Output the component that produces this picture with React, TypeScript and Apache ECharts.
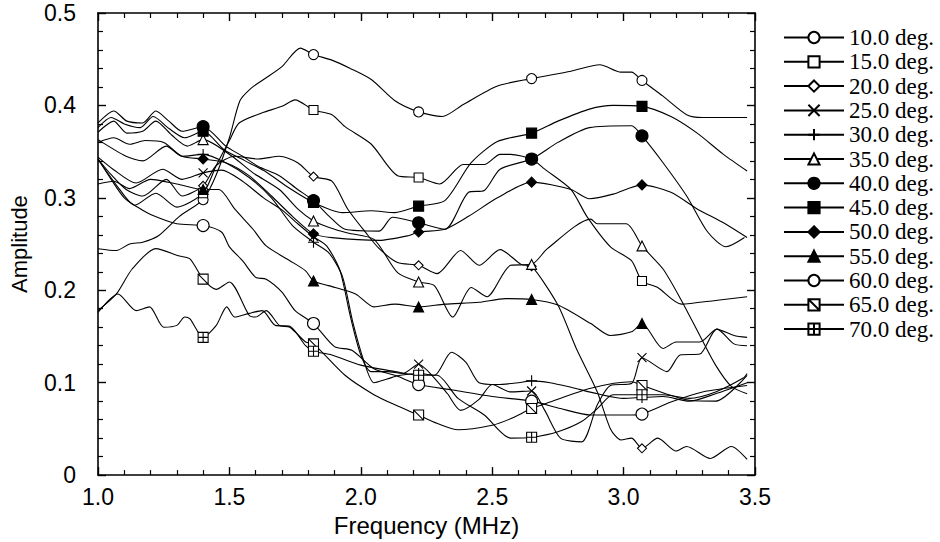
import React, { useEffect, useRef } from "react";
import * as echarts from "echarts";

const MARKER_X = [1.4, 1.82, 2.22, 2.65, 3.07];
const NAMES = ["10.0 deg.", "15.0 deg.", "20.0 deg.", "25.0 deg.", "30.0 deg.", "35.0 deg.", "40.0 deg.", "45.0 deg.", "50.0 deg.", "55.0 deg.", "60.0 deg.", "65.0 deg.", "70.0 deg."];
const X_TICKS = [1.0, 1.5, 2.0, 2.5, 3.0, 3.5];
const Y_TICKS = [0, 0.1, 0.2, 0.3, 0.4, 0.5];

const s10 = [[1.0,0.245],[1.07,0.243],[1.12,0.25],[1.17,0.252],[1.23,0.259],[1.31,0.28],[1.45,0.325],[1.5,0.365],[1.54,0.405],[1.58,0.418],[1.63,0.428],[1.7,0.442],[1.77,0.462],[1.89,0.449],[1.96,0.44],[2.04,0.428],[2.13,0.405],[2.31,0.388],[2.39,0.401],[2.52,0.421],[2.8,0.437],[2.91,0.444],[2.99,0.436],[3.03,0.436],[3.15,0.41],[3.24,0.39],[3.3,0.387],[3.47,0.387]];
const m10 = [0.298, 0.455, 0.393, 0.429, 0.427];

const s15 = [[1.0,0.342],[1.08,0.31],[1.14,0.292],[1.22,0.305],[1.3,0.29],[1.45,0.335],[1.5,0.362],[1.537,0.381],[1.625,0.392],[1.7,0.399],[1.75,0.406],[1.89,0.39],[1.94,0.377],[2.04,0.358],[2.14,0.324],[2.3,0.315],[2.39,0.336],[2.47,0.336],[2.53,0.347],[2.57,0.347],[2.7,0.331],[2.8,0.309],[2.86,0.28],[2.95,0.247],[3.03,0.232],[3.13,0.203],[3.22,0.185],[3.35,0.189],[3.47,0.193]];
const m15 = [0.305, 0.395, 0.322, 0.342, 0.21];

const s20 = [[1.0,0.342],[1.05,0.325],[1.107,0.309],[1.17,0.302],[1.26,0.32],[1.32,0.302],[1.45,0.335],[1.52,0.345],[1.61,0.342],[1.69,0.345],[1.76,0.338],[1.89,0.318],[1.95,0.288],[2.02,0.262],[2.07,0.245],[2.14,0.23],[2.29,0.218],[2.38,0.243],[2.45,0.227],[2.53,0.244],[2.61,0.228],[2.75,0.184],[2.82,0.137],[2.9,0.09],[2.95,0.05],[2.99,0.038],[3.03,0.04],[3.13,0.04],[3.2,0.026],[3.24,0.031],[3.33,0.018],[3.41,0.031],[3.47,0.017]];
const m20 = [0.313, 0.323, 0.227, 0.226, 0.029];

const s25 = [[1.0,0.344],[1.057,0.331],[1.145,0.316],[1.246,0.331],[1.32,0.32],[1.47,0.33],[1.55,0.318],[1.63,0.3],[1.7,0.287],[1.76,0.272],[1.87,0.248],[1.92,0.222],[1.96,0.172],[2.0,0.13],[2.04,0.112],[2.1,0.112],[2.16,0.11],[2.28,0.105],[2.33,0.088],[2.38,0.07],[2.45,0.082],[2.5,0.098],[2.57,0.09],[2.7,0.07],[2.76,0.04],[2.84,0.036],[2.9,0.076],[2.95,0.097],[3.03,0.099],[3.165,0.112],[3.215,0.13],[3.29,0.131],[3.355,0.158],[3.42,0.151],[3.47,0.149]];
const m25 = [0.327, 0.258, 0.12, 0.091, 0.127];

const s30 = [[1.0,0.363],[1.107,0.345],[1.17,0.34],[1.26,0.356],[1.32,0.345],[1.486,0.338],[1.575,0.322],[1.66,0.3],[1.74,0.27],[1.88,0.24],[1.93,0.215],[1.97,0.165],[2.01,0.125],[2.05,0.1],[2.1,0.104],[2.15,0.108],[2.28,0.108],[2.345,0.133],[2.4,0.122],[2.45,0.1],[2.52,0.098],[2.6,0.1],[2.72,0.1],[2.8,0.095],[2.9,0.088],[3.0,0.083],[3.15,0.085],[3.25,0.08],[3.35,0.088],[3.47,0.1]];
const m30 = [0.347, 0.252, 0.11, 0.102, 0.084];

const s35 = [[1.0,0.371],[1.06,0.383],[1.11,0.37],[1.17,0.372],[1.22,0.383],[1.28,0.368],[1.34,0.356],[1.51,0.345],[1.59,0.327],[1.69,0.309],[1.76,0.288],[1.88,0.268],[1.95,0.262],[2.05,0.255],[2.14,0.219],[2.28,0.205],[2.35,0.171],[2.42,0.203],[2.48,0.193],[2.57,0.227],[2.71,0.245],[2.875,0.277],[2.9,0.272],[3.01,0.272],[3.15,0.223],[3.22,0.189],[3.29,0.151],[3.35,0.119],[3.41,0.096],[3.47,0.088]];
const m35 = [0.363, 0.275, 0.209, 0.228, 0.248];

const s40 = [[1.0,0.381],[1.06,0.394],[1.11,0.383],[1.17,0.381],[1.22,0.394],[1.27,0.383],[1.32,0.372],[1.486,0.356],[1.55,0.345],[1.61,0.334],[1.69,0.324],[1.76,0.309],[1.88,0.28],[1.94,0.266],[2.07,0.264],[2.12,0.279],[2.32,0.266],[2.41,0.306],[2.47,0.308],[2.53,0.331],[2.75,0.36],[2.87,0.376],[3.03,0.378],[3.15,0.338],[3.24,0.302],[3.32,0.263],[3.39,0.247],[3.46,0.257]];
const m40 = [0.377, 0.297, 0.273, 0.342, 0.367];

const s45 = [[1.0,0.376],[1.05,0.387],[1.1,0.38],[1.16,0.376],[1.21,0.388],[1.27,0.375],[1.33,0.365],[1.48,0.352],[1.56,0.34],[1.64,0.328],[1.72,0.312],[1.93,0.284],[2.04,0.286],[2.13,0.284],[2.32,0.297],[2.42,0.338],[2.52,0.361],[2.75,0.383],[2.87,0.396],[2.96,0.4],[3.18,0.388],[3.28,0.37],[3.38,0.347],[3.47,0.329]];
const m45 = [0.372, 0.295, 0.291, 0.37, 0.399];

const s50 = [[1.0,0.36],[1.06,0.365],[1.12,0.358],[1.18,0.362],[1.25,0.36],[1.32,0.345],[1.486,0.338],[1.575,0.324],[1.66,0.302],[1.74,0.28],[1.89,0.257],[2.07,0.254],[2.18,0.259],[2.32,0.266],[2.41,0.28],[2.52,0.3],[2.8,0.309],[2.87,0.299],[2.96,0.304],[3.18,0.306],[3.28,0.288],[3.38,0.273],[3.47,0.257]];
const m50 = [0.342, 0.261, 0.263, 0.317, 0.314];

const s55 = [[1.0,0.315],[1.06,0.318],[1.12,0.31],[1.2,0.32],[1.3,0.315],[1.46,0.309],[1.52,0.288],[1.59,0.266],[1.64,0.248],[1.73,0.232],[1.79,0.221],[1.877,0.205],[1.98,0.196],[2.05,0.182],[2.13,0.185],[2.32,0.185],[2.45,0.187],[2.55,0.191],[2.75,0.184],[2.875,0.164],[2.95,0.151],[3.03,0.155],[3.15,0.137],[3.2,0.144],[3.29,0.144],[3.355,0.158],[3.42,0.142],[3.47,0.14]];
const m55 = [0.309, 0.21, 0.182, 0.19, 0.164];

const s60 = [[1.0,0.342],[1.05,0.32],[1.1,0.3],[1.15,0.29],[1.2,0.282],[1.3,0.272],[1.47,0.263],[1.5,0.247],[1.55,0.232],[1.6,0.214],[1.64,0.212],[1.7,0.198],[1.75,0.178],[1.9,0.139],[1.966,0.135],[2.05,0.115],[2.13,0.108],[2.35,0.092],[2.5,0.085],[2.76,0.072],[2.875,0.065],[3.03,0.065],[3.18,0.079],[3.3,0.09],[3.47,0.097]];
const m60 = [0.27, 0.164, 0.098, 0.08, 0.066];

const s65 = [[1.0,0.178],[1.07,0.196],[1.13,0.223],[1.22,0.245],[1.31,0.237],[1.35,0.234],[1.45,0.201],[1.5,0.209],[1.575,0.173],[1.6,0.171],[1.64,0.178],[1.69,0.162],[1.73,0.16],[1.79,0.144],[1.94,0.108],[2.05,0.087],[2.13,0.076],[2.29,0.056],[2.37,0.049],[2.5,0.054],[2.57,0.061],[2.72,0.079],[2.875,0.094],[3.03,0.101],[3.25,0.081],[3.35,0.08],[3.47,0.108]];
const m65 = [0.212, 0.142, 0.065, 0.072, 0.097];

const s70 = [[1.0,0.176],[1.076,0.196],[1.145,0.178],[1.196,0.182],[1.25,0.16],[1.3,0.162],[1.33,0.171],[1.35,0.169],[1.45,0.162],[1.49,0.182],[1.52,0.171],[1.575,0.175],[1.625,0.178],[1.675,0.162],[1.73,0.161],[1.79,0.14],[1.89,0.13],[2.0,0.119],[2.13,0.112],[2.29,0.108],[2.37,0.083],[2.47,0.065],[2.57,0.04],[2.75,0.047],[2.84,0.058],[2.9,0.072],[2.96,0.087],[3.15,0.087],[3.25,0.083],[3.35,0.09],[3.455,0.105],[3.47,0.11]];
const m70 = [0.149, 0.134, 0.108, 0.041, 0.087];

const LINES = [s10, s15, s20, s25, s30, s35, s40, s45, s50, s55, s60, s65, s70];
const MARKS = [m10, m15, m20, m25, m30, m35, m40, m45, m50, m55, m60, m65, m70];

const CROSS = "path://M0,0L10,10M10,0L0,10";
const PLUS = "path://M5,0L5,10M0,5L10,5";
const BOXDIAG = "path://M0,0L10,0L10,10L0,10ZM0,0L10,10";
const BOXPLUS = "path://M0,0L10,0L10,10L0,10ZM5,0L5,10M0,5L10,5";

const STYLES = [
  { symbol: "circle", size: 10, fill: "#fff" },
  { symbol: "rect", size: 9, fill: "#fff" },
  { symbol: "diamond", size: 9, fill: "#fff" },
  { symbol: CROSS, size: 9, fill: "#fff" },
  { symbol: PLUS, size: 11, fill: "#fff" },
  { symbol: "triangle", size: 10, fill: "#fff" },
  { symbol: "circle", size: 12, fill: "#000" },
  { symbol: "rect", size: 10, fill: "#000" },
  { symbol: "diamond", size: 10, fill: "#000" },
  { symbol: "triangle", size: 10, fill: "#000" },
  { symbol: "circle", size: 12, fill: "#fff" },
  { symbol: BOXDIAG, size: 10, fill: "#fff" },
  { symbol: BOXPLUS, size: 10, fill: "#fff" },
];

function buildData(line: number[][], marks: number[]) {
  const pts: { v: number[]; m: boolean }[] = [];
  line.forEach((p) => {
    if (!MARKER_X.some((mx) => Math.abs(mx - p[0]) < 0.004)) pts.push({ v: p, m: false });
  });
  marks.forEach((y, i) => pts.push({ v: [MARKER_X[i], y], m: true }));
  pts.sort((a, b) => a.v[0] - b.v[0]);
  return pts.map((p) => (p.m ? { value: p.v } : { value: p.v, symbol: "none" }));
}

const SANS = "Liberation Sans, Arial, sans-serif";

export default function App() {
  const ref = useRef<HTMLDivElement>(null);
  useEffect(() => {
    if (!ref.current) return;
    const chart = echarts.init(ref.current, undefined, { renderer: "svg" });
    const mkAxis = () => ({
      type: "value" as const,
      z: 10,
      axisLine: { show: true, onZero: false, lineStyle: { color: "#000", width: 1.6 } },
      axisTick: { show: true, inside: true, length: 8, lineStyle: { color: "#000", width: 1.4 } },
      minorTick: { show: true, splitNumber: 5, length: 5, lineStyle: { color: "#000", width: 1.2 } },
      splitLine: { show: false },
    });
    const series = NAMES.map((name, i) => ({
      name,
      type: "line",
      data: buildData(LINES[i], MARKS[i]),
      symbol: STYLES[i].symbol,
      symbolSize: STYLES[i].size,
      showAllSymbol: true,
      smooth: 0.25,
      lineStyle: { color: "#000", width: 1.1 },
      itemStyle: { color: STYLES[i].fill, borderColor: "#000", borderWidth: 1.1 },
      emphasis: { disabled: true },
    }));
    chart.setOption({
      animation: false,
      grid: { left: 95, right: 185, top: 13, bottom: 65, containLabel: false },
      legend: {
        orient: "vertical",
        left: 783,
        top: 26,
        padding: 0,
        itemWidth: 60,
        itemHeight: 14,
        itemGap: 1.3,
        selectedMode: false,
        data: NAMES,
        textStyle: { fontFamily: "Liberation Serif, Times New Roman, serif", fontSize: 23, color: "#000" },
      },
      xAxis: [
        {
          ...mkAxis(),
          position: "bottom",
          min: X_TICKS[0],
          max: X_TICKS[X_TICKS.length - 1],
          splitNumber: X_TICKS.length - 1,
          axisLabel: { formatter: (v: number) => v.toFixed(1), color: "#000", fontSize: 23, fontFamily: SANS, margin: 10 },
          name: "Frequency (MHz)",
          nameLocation: "middle",
          nameGap: 37,
          nameTextStyle: { color: "#000", fontSize: 24, fontFamily: SANS },
        },
        {
          ...mkAxis(),
          position: "top",
          min: X_TICKS[0],
          max: X_TICKS[X_TICKS.length - 1],
          splitNumber: X_TICKS.length - 1,
          axisLabel: { show: false },
        },
      ],
      yAxis: [
        {
          ...mkAxis(),
          position: "left",
          min: Y_TICKS[0],
          max: Y_TICKS[Y_TICKS.length - 1],
          interval: 0.1,
          axisLabel: { formatter: (v: number) => (v === 0 ? "0" : v.toFixed(1)), color: "#000", fontSize: 23, fontFamily: SANS, margin: 22 },
          name: "Amplitude",
          nameLocation: "middle",
          nameGap: 68,
          nameTextStyle: { color: "#000", fontSize: 22, fontFamily: SANS },
        },
        {
          ...mkAxis(),
          position: "right",
          min: Y_TICKS[0],
          max: Y_TICKS[Y_TICKS.length - 1],
          interval: 0.1,
          axisLabel: { show: false },
        },
      ],
      series,
    });
    return () => chart.dispose();
  }, []);
  return <div ref={ref} style={{ position: "fixed", left: 0, top: 0, width: 940, height: 542, background: "#fff" }} />;
}
